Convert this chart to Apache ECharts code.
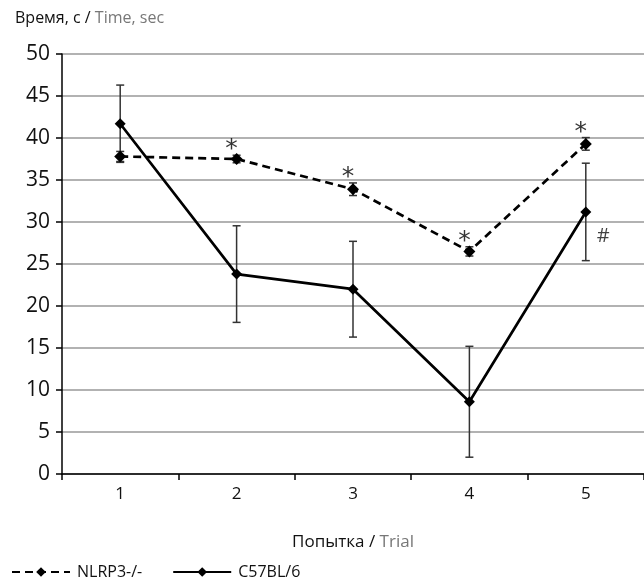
<!DOCTYPE html>
<html><head><meta charset="utf-8">
<script src="https://cdn.jsdelivr.net/npm/echarts@6/dist/echarts.min.js"></script>
<style>html,body{margin:0;padding:0;background:#fff}#c{width:644px;height:586px}</style>
</head><body><div id="c"></div>
<script>
const categories = ['1','2','3','4','5'];
const nlrpMean = [37.8, 37.5, 33.9, 26.5, 39.3];
const nlrpErr  = [0.6, 0.45, 0.75, 0.55, 0.75];
const c57Mean  = [41.7, 23.8, 22.0, 8.6, 31.2];
const c57Err   = [4.6, 5.75, 5.7, 6.6, 5.8];
const yTicks   = [0, 5, 10, 15, 20, 25, 30, 35, 40, 45, 50];
const starMarks = [1, 2, 3, 4];      // category indexes with '*' above NLRP3-/-
const hashMarks = [4];               // category indexes with '#' beside C57BL/6

const FONT = 'Open Sans';
const chart = echarts.init(document.getElementById('c'));

function errData(mean, err){ return mean.map((m,i)=>[i, m-err[i], m+err[i]]); }
function errRender(params, api){
  const x = api.value(0);
  const lo = api.coord([x, api.value(1)]);
  const hi = api.coord([x, api.value(2)]);
  const w = 4;
  const st = {stroke:'#333', lineWidth:1.5};
  return {type:'group', children:[
    {type:'line', shape:{x1:lo[0],y1:lo[1],x2:hi[0],y2:hi[1]}, style:st},
    {type:'line', shape:{x1:lo[0]-w,y1:lo[1],x2:lo[0]+w,y2:lo[1]}, style:st},
    {type:'line', shape:{x1:hi[0]-w,y1:hi[1],x2:hi[0]+w,y2:hi[1]}, style:st}
  ]};
}

chart.setOption({
  animation:false,
  textStyle:{fontFamily:FONT},
  title:{
    left:10, top:5,
    text:'{a|Время, с / }{b|Time, sec}',
    textStyle:{fontWeight:'normal', rich:{
      a:{fontFamily:FONT,fontSize:16,fontWeight:'normal',color:'#111'},
      b:{fontFamily:FONT,fontSize:16,fontWeight:'normal',color:'#777'}
    }}
  },
  grid:{left:62, right:0, top:54, bottom:112, containLabel:false},
  legend:{
    left:6, bottom:1, itemWidth:58, itemHeight:12, itemGap:30,
    textStyle:{fontFamily:FONT,fontSize:16,color:'#111',padding:[0,0,0,2]},
    data:['NLRP3-/-','C57BL/6']
  },
  xAxis:{
    type:'category', data:categories, boundaryGap:true,
    axisLine:{lineStyle:{color:'#000',width:1.5}},
    axisTick:{show:true,length:6,lineStyle:{color:'#000',width:1.5}},
    axisLabel:{fontFamily:FONT,fontSize:17,color:'#111',margin:12},
    name:'{a|Попытка / }{b|Trial}', nameLocation:'middle', nameGap:60,
    nameTextStyle:{rich:{
      a:{fontFamily:FONT,fontSize:17,color:'#111'},
      b:{fontFamily:FONT,fontSize:17,color:'#777'}
    }}
  },
  yAxis:{
    type:'value', min:0, max:50, interval:5,
    axisLine:{show:true,lineStyle:{color:'#000',width:1.5}},
    axisTick:{show:true,length:6,lineStyle:{color:'#000',width:1.5}},
    axisLabel:{fontFamily:FONT,fontSize:21,color:'#111',margin:12,
      formatter:v=>yTicks.includes(v)?String(v):''},
    splitLine:{lineStyle:{color:'#999',width:1.5}}
  },
  series:[
    {name:'NLRP3-/-', type:'line', data:nlrpMean, symbol:'diamond', symbolSize:12,
      itemStyle:{color:'#000'}, lineStyle:{color:'#000',width:2.7,type:[8,5]}, z:3},
    {name:'C57BL/6', type:'line', data:c57Mean, symbol:'diamond', symbolSize:11,
      itemStyle:{color:'#000'}, lineStyle:{color:'#000',width:2.7,type:'solid'}, z:3},
    {type:'custom', data:errData(nlrpMean,nlrpErr), renderItem:errRender, z:2, encode:{x:0,y:[1,2]}},
    {type:'custom', data:errData(c57Mean,c57Err), renderItem:errRender, z:2, encode:{x:0,y:[1,2]}},
    {type:'scatter', symbolSize:0, silent:true,
      data:starMarks.map(i=>[i, nlrpMean[i]+nlrpErr[i]]),
      label:{show:true, formatter:'*', position:'top', distance:2, offset:[-5,9],
        fontFamily:'DejaVu Sans', fontSize:25, color:'#000'}},
    {type:'scatter', symbolSize:0, silent:true,
      data:hashMarks.map(i=>[i, c57Mean[i]]),
      label:{show:true, formatter:'#', position:'right', distance:11, offset:[0,24],
        fontFamily:FONT, fontSize:20, color:'#111'}}
  ]
});
</script></body></html>
